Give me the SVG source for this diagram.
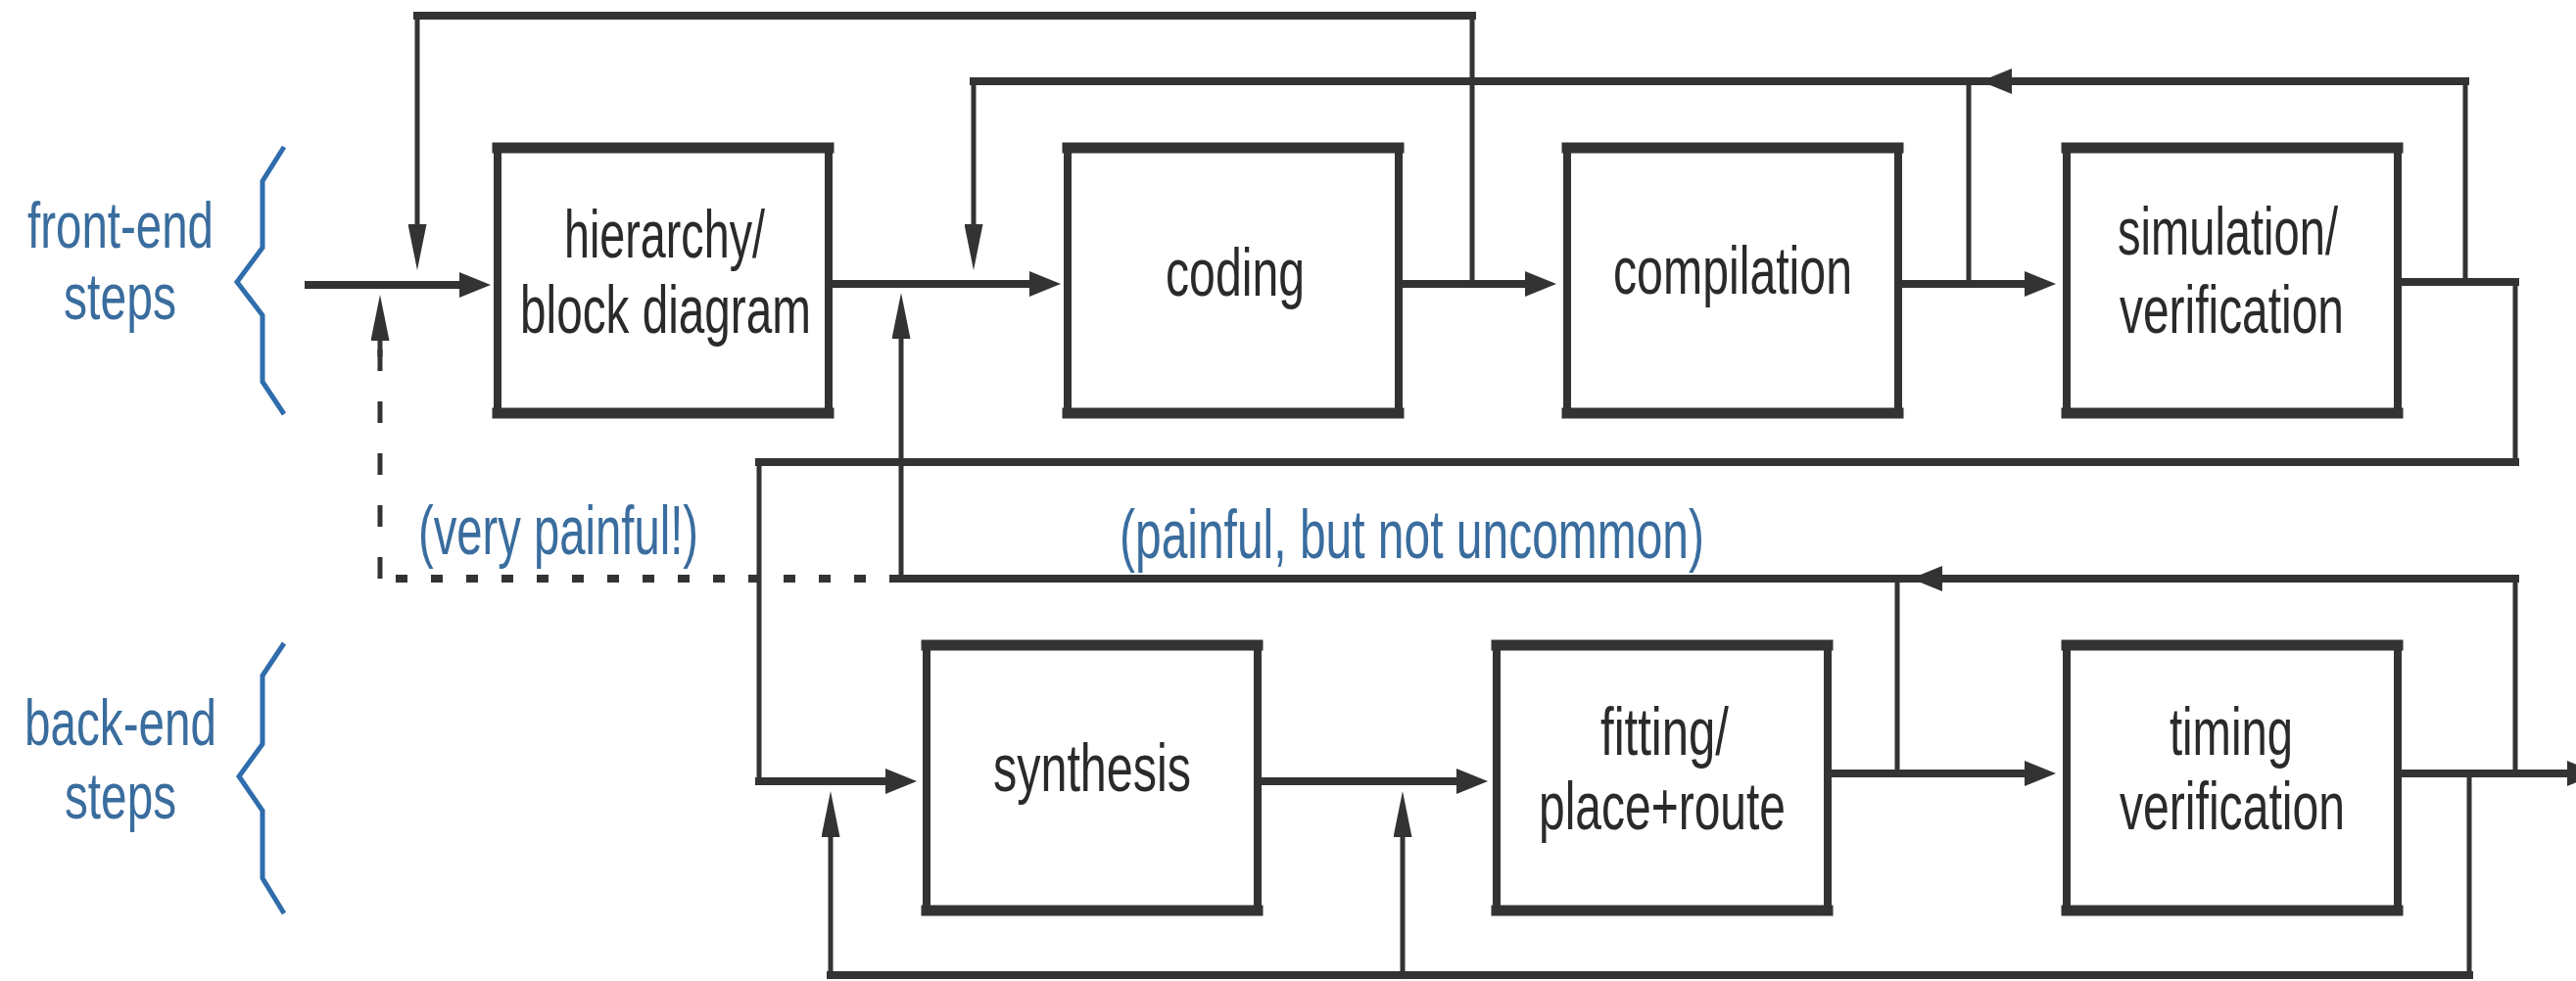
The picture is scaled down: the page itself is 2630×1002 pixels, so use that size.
<svg xmlns="http://www.w3.org/2000/svg" width="2630" height="1002" viewBox="0 0 2630 1002">
<style>
.box{fill:#fff;stroke:#333;stroke-width:8}
.tb{stroke:#333;stroke-width:11;stroke-linecap:square}
.lbl{font-family:"Liberation Sans",Arial,sans-serif;font-size:68px;fill:#2a2a2a}
.side{font-family:"Liberation Sans",Arial,sans-serif;font-size:66px;fill:#3a6d9e}
.note{font-family:"Liberation Sans",Arial,sans-serif;font-size:70px;fill:#3a6d9e}
.brace{fill:none;stroke:#2f6dac;stroke-width:5;stroke-linejoin:miter}
.h{fill:none;stroke:#333;stroke-width:8;stroke-linecap:square}
.v{fill:none;stroke:#333;stroke-width:5;stroke-linecap:square}
.hd{fill:none;stroke:#333;stroke-width:8;stroke-dasharray:12 24}
.vd{fill:none;stroke:#333;stroke-width:5;stroke-dasharray:22 31}
.ah{marker-end:url(#ah)}
.av{marker-end:url(#av)}
</style>
<defs>
<marker id="ah" markerUnits="userSpaceOnUse" viewBox="0 0 32 26" markerWidth="32" markerHeight="26" refX="1" refY="13" orient="auto">
<path d="M0,0 L32,13 L0,26 z" fill="#333"/>
</marker>
<marker id="av" markerUnits="userSpaceOnUse" viewBox="0 0 47 19" markerWidth="47" markerHeight="19" refX="1" refY="9.5" orient="auto">
<path d="M0,0 L47,9.5 L0,19 z" fill="#333"/>
</marker>
</defs>
<rect width="2630" height="1002" fill="#fff"/>

<g id="labels">
<path class="brace" d="M290,150 L268,185 L268,253 L242,288 L268,322 L268,390 L290,423"/>
<text class="side" x="28" y="253" textLength="190" lengthAdjust="spacingAndGlyphs">front-end</text>
<text class="side" x="65" y="326" textLength="115" lengthAdjust="spacingAndGlyphs">steps</text>
<path class="brace" d="M290,657 L268,690 L268,760 L244,793 L268,828 L268,897 L290,933"/>
<text class="side" x="25" y="761" textLength="196" lengthAdjust="spacingAndGlyphs">back-end</text>
<text class="side" x="66" y="836" textLength="114" lengthAdjust="spacingAndGlyphs">steps</text>
<text class="note" x="427" y="566" textLength="286" lengthAdjust="spacingAndGlyphs">(very painful!)</text>
<text class="note" x="1143" y="570" textLength="597" lengthAdjust="spacingAndGlyphs">(painful, but not uncommon)</text>
</g>

<g id="connectors">
<!-- front row flow -->
<path class="h ah" d="M315,291 H470"/>
<path class="h ah" d="M846,290 H1052"/>
<path class="h ah" d="M1428,290 H1558"/>
<path class="h ah" d="M1938,290 H2068"/>
<!-- simulation exit to synthesis -->
<path class="h" d="M2448,288 H2568"/>
<path class="v" d="M2568,288 V472"/>
<path class="h" d="M2568,472 H775"/>
<path class="v" d="M775,472 V798"/>
<path class="h ah" d="M775,798 H905"/>
<!-- top loop: compilation back to hierarchy -->
<path class="v" d="M1503,290 V16"/>
<path class="h" d="M1503,16 H426"/>
<path class="v av" d="M426,16 V230"/>
<!-- loop: simulation back to coding -->
<path class="v" d="M2010,290 V83"/>
<path class="v" d="M2517,288 V83"/>
<path class="h ah" d="M2517,83 H2053"/>
<path class="h" d="M2030,83 H994"/>
<path class="v av" d="M994,83 V230"/>
<!-- very painful dashed loop -->
<path class="hd" d="M920,591 H388"/>
<path class="vd" d="M388,591 V350"/>
<path class="v av" d="M388,362 V347"/>
<!-- painful loop -->
<path class="v" d="M2568,790 V591"/>
<path class="h ah" d="M2568,591 H1982"/>
<path class="h" d="M1960,591 H920"/>
<path class="v" d="M1937,790 V591"/>
<path class="v av" d="M920,591 V345"/>
<!-- back row flow -->
<path class="h ah" d="M1284,798 H1488"/>
<path class="h ah" d="M1866,790 H2068"/>
<path class="h ah" d="M2448,790 H2622"/>
<!-- bottom loop -->
<path class="v" d="M2521,790 V996"/>
<path class="h" d="M2521,996 H848"/>
<path class="v av" d="M848,996 V854"/>
<path class="v av" d="M1432,996 V854"/>
</g>

<g id="hierarchy">
<rect class="box" x="508" y="151" width="338" height="271"/>
<line class="tb" x1="508" y1="151" x2="846" y2="151"/><line class="tb" x1="508" y1="422" x2="846" y2="422"/>
<text class="lbl" x="576" y="263" textLength="205" lengthAdjust="spacingAndGlyphs">hierarchy/</text>
<text class="lbl" x="531" y="340" textLength="297" lengthAdjust="spacingAndGlyphs">block diagram</text>
</g>
<g id="coding">
<rect class="box" x="1090" y="151" width="338" height="271"/>
<line class="tb" x1="1090" y1="151" x2="1428" y2="151"/><line class="tb" x1="1090" y1="422" x2="1428" y2="422"/>
<text class="lbl" x="1190" y="302" textLength="142" lengthAdjust="spacingAndGlyphs">coding</text>
</g>
<g id="compilation">
<rect class="box" x="1600" y="151" width="338" height="271"/>
<line class="tb" x1="1600" y1="151" x2="1938" y2="151"/><line class="tb" x1="1600" y1="422" x2="1938" y2="422"/>
<text class="lbl" x="1647" y="300" textLength="244" lengthAdjust="spacingAndGlyphs">compilation</text>
</g>
<g id="simulation">
<rect class="box" x="2110" y="151" width="338" height="271"/>
<line class="tb" x1="2110" y1="151" x2="2448" y2="151"/><line class="tb" x1="2110" y1="422" x2="2448" y2="422"/>
<text class="lbl" x="2162" y="260" textLength="225" lengthAdjust="spacingAndGlyphs">simulation/</text>
<text class="lbl" x="2164" y="340" textLength="229" lengthAdjust="spacingAndGlyphs">verification</text>
</g>
<g id="synthesis">
<rect class="box" x="946" y="659" width="338" height="271"/>
<line class="tb" x1="946" y1="659" x2="1284" y2="659"/><line class="tb" x1="946" y1="930" x2="1284" y2="930"/>
<text class="lbl" x="1014" y="808" textLength="202" lengthAdjust="spacingAndGlyphs">synthesis</text>
</g>
<g id="fitting">
<rect class="box" x="1528" y="659" width="338" height="271"/>
<line class="tb" x1="1528" y1="659" x2="1866" y2="659"/><line class="tb" x1="1528" y1="930" x2="1866" y2="930"/>
<text class="lbl" x="1634" y="771" textLength="131" lengthAdjust="spacingAndGlyphs">fitting/</text>
<text class="lbl" x="1571" y="847" textLength="252" lengthAdjust="spacingAndGlyphs">place+route</text>
</g>
<g id="timing">
<rect class="box" x="2110" y="659" width="338" height="271"/>
<line class="tb" x1="2110" y1="659" x2="2448" y2="659"/><line class="tb" x1="2110" y1="930" x2="2448" y2="930"/>
<text class="lbl" x="2215" y="771" textLength="126" lengthAdjust="spacingAndGlyphs">timing</text>
<text class="lbl" x="2164" y="847" textLength="230" lengthAdjust="spacingAndGlyphs">verification</text>
</g>
</svg>
